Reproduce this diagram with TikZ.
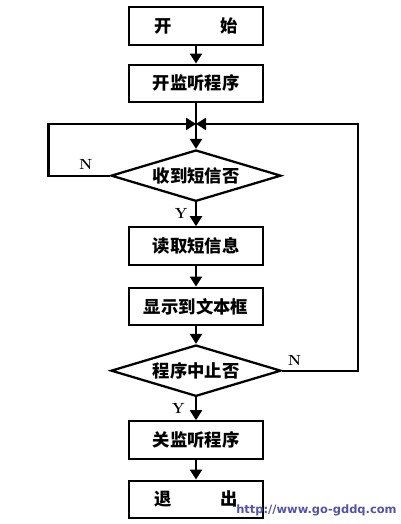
\documentclass[tikz,border=0pt]{standalone}
\usepackage{fontspec}
\newfontfamily\cjk{Noto Sans CJK SC}
\newfontfamily\wmfont{DejaVu Sans}
\usepackage{tikz}
\usetikzlibrary{arrows.meta,positioning,shapes.geometric}

\begin{document}
\begin{tikzpicture}[
  node distance=13.3pt,
  every node/.style={font=\cjk\bfseries\fontsize{13}{15}\selectfont},
  procbox/.style={draw, line width=1.7pt, align=center, minimum height=28pt, minimum width=100.5pt, inner sep=0pt},
  decision/.style={draw, diamond, line width=1.7pt, aspect=3.3, minimum width=127.5pt, minimum height=38.5pt, inner sep=0pt},
  yn/.style={font=\bfseries\fontsize{11}{13}\selectfont},
  arrow/.style={-{Triangle[length=7.5pt, width=9pt]}, line width=1.7pt},
  line/.style={line width=1.7pt}
]
\path[use as bounding box] (-147pt,19.5pt) rectangle (153pt,-373.5pt);

\node[procbox] (start) at (0,0) {开\hspace{2.8em}始};
\node[procbox, below=of start] (listen) {开监听程序};
\coordinate[below=15.6pt of listen] (join);
\node[decision, below=34.3pt of listen] (gotmsg) {收到短信否};
\node[procbox, below=17.8pt of gotmsg] (readmsg) {读取短信息};
\node[procbox, below=15.55pt of readmsg] (showmsg) {显示到文本框};
\node[decision, below=of showmsg] (stopq) {程序中止否};
\node[procbox, below=17.05pt of stopq] (unlisten) {关监听程序};
\node[procbox, below=14.8pt of unlisten] (quit) {退\hspace{2.8em}出};
\coordinate[left=46pt of gotmsg.west] (lloop);
\coordinate[right=57pt of stopq.east] (rloop);

\draw[arrow] (start) -- (listen);
\draw[line] (listen) -- (join);
\draw[arrow] (join) -- (gotmsg);
\draw[arrow] (gotmsg.west) -- (lloop) |- (join);
\draw[arrow] (gotmsg) -- (readmsg);
\draw[arrow] (readmsg) -- (showmsg);
\draw[arrow] (showmsg) -- (stopq);
\draw[arrow] (stopq.east) -- (rloop) |- (join);
\draw[arrow] (stopq) -- (unlisten);
\draw[arrow] (unlisten) -- (quit);

\node[yn, above=1pt of lloop, xshift=28pt] (nleft) {N};
\node[yn, above right=0pt and 1pt of stopq.east] (nright) {N};
\node[yn, below left=1pt and 3pt of gotmsg.south] (yup) {Y};
\node[yn, below left=1pt and 5pt of stopq.south] (ydown) {Y};

\node[font=\wmfont\bfseries\fontsize{8.6}{10}\selectfont, text=blue!35!gray, anchor=west, inner sep=0pt] (wm) at (30pt,-363pt) {http://www.go-gddq.com};
\end{tikzpicture}
\end{document}
